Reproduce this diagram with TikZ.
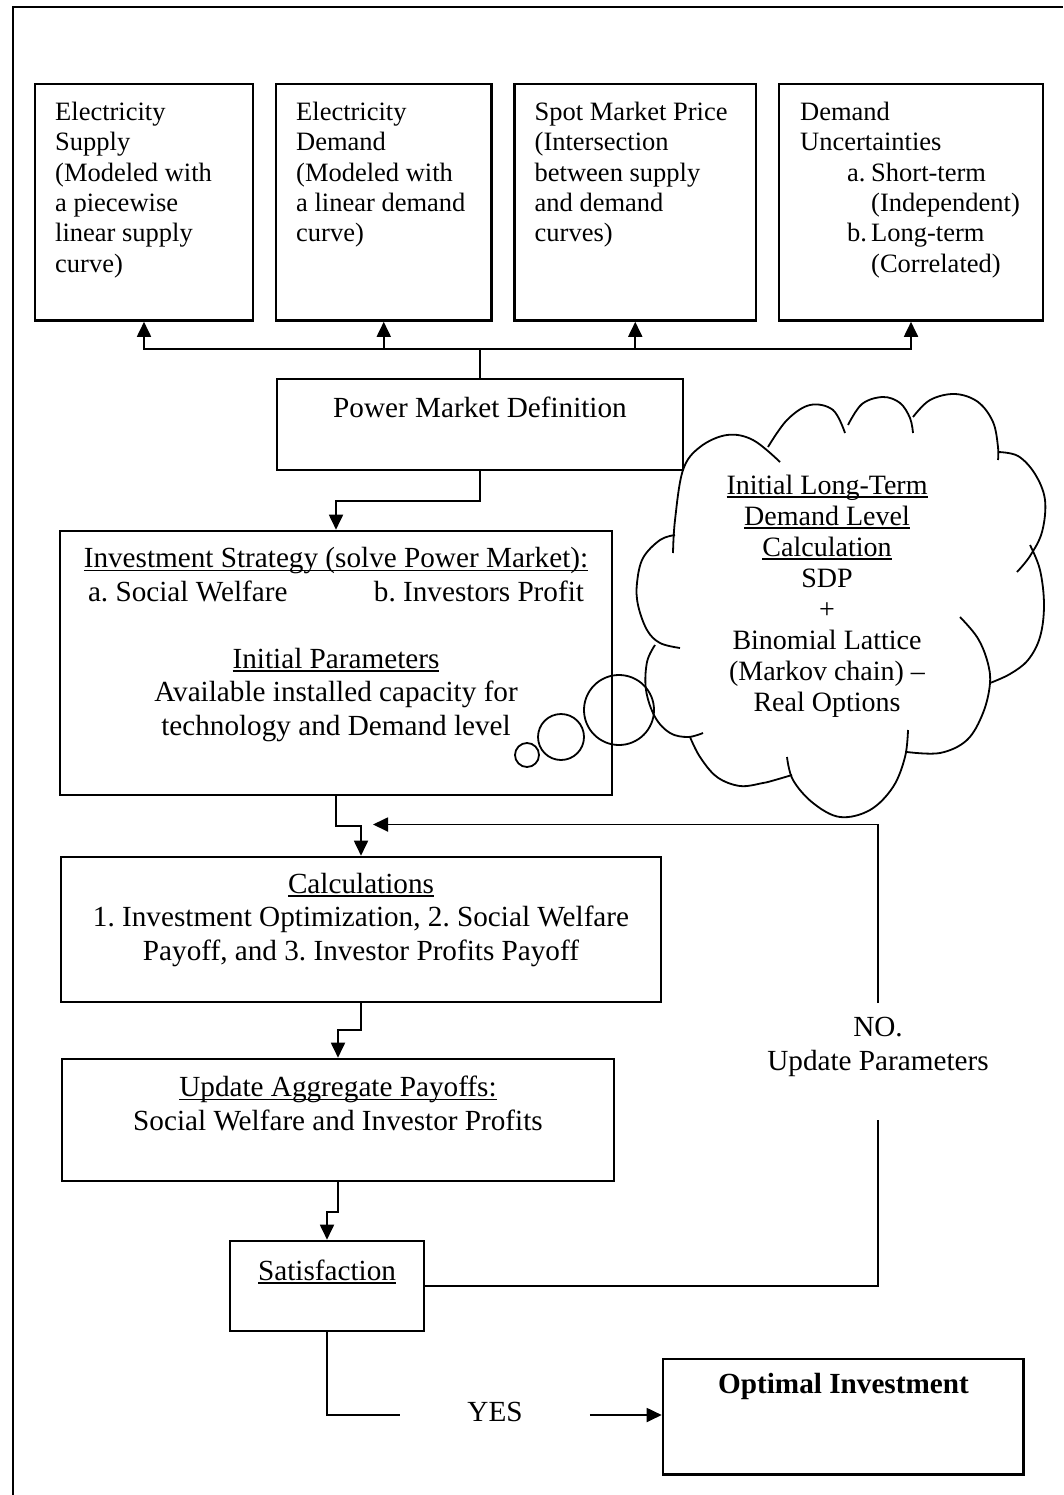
\documentclass[tikz,border=0pt]{standalone}
\usepackage{fontspec}
\setmainfont{Liberation Serif}
\usetikzlibrary{arrows.meta}

% underline at a fixed distance below the baseline
\newcommand\ulx[1]{\setbox0=\hbox{#1}\rlap{\rule[-3.5pt]{\wd0}{1.3pt}}\box0}
% fixes the height of a node's first line
\newcommand\topstrut{\rule{0pt}{22pt}}
\newcommand\fA{\fontsize{26.5pt}{30.3pt}\selectfont\frenchspacing}
\newcommand\fB{\fontsize{29.2pt}{33.5pt}\selectfont\frenchspacing}
\newcommand\fC{\fontsize{28pt}{31pt}\selectfont\frenchspacing}

\begin{document}
\begin{tikzpicture}[x=1pt,y=-1pt,
  box/.style={draw, rectangle, line width=2.6pt, inner sep=0pt},
  link/.style={line width=1.8pt},
  arr/.style={link, -{Triangle[length=15pt,width=14pt]}},
  txtA/.style={font=\fA, inner sep=0pt, align=left, anchor=north west},
  txtB/.style={font=\fB, inner sep=0pt, align=center},
  bubble/.style={draw, circle, line width=1.8pt, inner sep=0pt},
  lobe/.style={line width=1.8pt, smooth, tension=0.6},
]
\useasboundingbox (0,0) rectangle (1063,1495);

% page frame
\draw[line width=2.4pt] (13,1495) -- (13,7) -- (1063,7);

% ---------- top row of market components ----------
\node[box, minimum width=218, minimum height=236.5] (sup)  at (144,202.25) {};
\node[box, minimum width=215.5, minimum height=236.5] (dem) at (383.75,202.25) {};
\node[box, minimum width=241.5, minimum height=236.5] (spot) at (635.25,202.25) {};
\node[box, minimum width=264, minimum height=236.5] (unc) at (911,202.25) {};

\node[txtA] (supt) at (55,98.5) {\topstrut Electricity\\Supply\\(Modeled with\\a piecewise\\linear supply\\curve)};
\node[txtA] (demt) at (296,98.5) {\topstrut Electricity\\Demand\\(Modeled with\\a linear demand\\curve)};
\node[txtA] (spott) at (534.5,98.5) {\topstrut Spot Market Price\\(Intersection\\between supply\\and demand\\curves)};
\node[txtA] (unct) at (800,98.5) {\topstrut Demand\\Uncertainties\\\hspace*{47pt}\makebox[24pt][l]{a.}Short-term\\\hspace*{71pt}(Independent)\\\hspace*{47pt}\makebox[24pt][l]{b.}Long-term\\\hspace*{71pt}(Correlated)};

% ---------- main flow boxes ----------
\node[box, minimum width=406, minimum height=91] (pmd) at (480,424.5) {};
\node[font=\fB, inner sep=0pt, anchor=base] (pmdt) at (480,417.3) {Power Market Definition};

\node[box, minimum width=552, minimum height=264] (is) at (336,663) {};
\node[txtB, anchor=north] (ist) at (336,545.5) {\topstrut\ulx{Investment Strategy (solve Power Market):}\\
  \makebox[496pt]{a. Social Welfare\hfill b. Investors Profit}\\
  \mbox{}\\
  \ulx{Initial Parameters}\\
  Available installed capacity for\\
  technology and Demand level};

\node[box, minimum width=600, minimum height=145] (calc) at (361,929.5) {};
\node[txtB, anchor=north] (calct) at (361,871) {\topstrut\ulx{Calculations}\\
  1. Investment Optimization, 2. Social Welfare\\
  Payoff, and 3. Investor Profits Payoff};

\node[box, minimum width=552, minimum height=122] (uap) at (338,1120) {};
\node[txtB, anchor=north] (uapt) at (338,1074.7) {\topstrut\ulx{Update Aggregate Payoffs:}\\
  Social Welfare and Investor Profits};

\node[box, minimum width=194, minimum height=90] (sat) at (327,1286) {};
\node[font=\fB, inner sep=0pt, anchor=base] (satt) at (327,1280) {\ulx{Satisfaction}};

\node[box, minimum width=360.5, minimum height=115.5] (oi) at (843.25,1416.75) {};
\node[font=\fB, inner sep=0pt, anchor=base] (oit) at (843.5,1393) {\bfseries Optimal Investment};

% ---------- thought cloud ----------
\draw[lobe] plot coordinates {(673,553) (675,520) (683,470) (700,447) (727,435) (753,440) (780,462)};
\draw[lobe] plot coordinates {(768,447) (787,420) (810,405) (833,410) (845,433)};
\draw[lobe] plot coordinates {(848,425) (862,404) (883,397) (900,403) (910,418) (913,433)};
\draw[lobe] plot coordinates {(913,417) (930,400) (955,394) (978,402) (993,422) (998,447) (998,460)};
\draw[lobe] plot coordinates {(998,452) (1018,456) (1035,474) (1045,500) (1042,532) (1030,556) (1017,572)};
\draw[lobe] plot coordinates {(1030,545) (1040,570) (1044,605) (1040,637) (1028,660) (1010,674) (990,683)};
\draw[lobe] plot coordinates {(960,617) (977,637) (987,660) (990,683) (983,713) (967,740) (940,753) (907,752)};
\draw[lobe] plot coordinates {(908,730) (905,757) (893,787) (870,810) (840,817) (813,803) (793,780) (787,757)};
\draw[lobe] plot coordinates {(792,775) (775,780) (763,783) (740,786) (717,777) (700,757) (690,737)};
\draw[lobe] plot coordinates {(703,733) (688,737) (670,733) (655,717) (646,690) (647,662) (655,645)};
\draw[lobe] plot coordinates {(680,648) (660,643) (647,630) (638,605) (637,583) (643,558) (660,540) (675,535)};

\node[font=\fC, inner sep=0pt, align=center, anchor=north] (cloudt) at (827,472) {\topstrut\ulx{Initial Long-Term}\\
  \ulx{Demand Level}\\
  \ulx{Calculation}\\
  SDP\\
  +\\
  Binomial Lattice\\
  (Markov chain) –\\
  Real Options};

% thought bubbles leading to the cloud
\node[bubble, minimum size=24] (b1) at (527,755) {};
\node[bubble, minimum size=46] (b2) at (561,737) {};
\node[bubble, minimum size=70] (b3) at (619,710) {};

% ---------- connectors ----------
\coordinate (hub) at (480,349);
\draw[link] (pmd.north) -- (hub);
\draw[arr] (hub) -| (sup.south);
\draw[arr] (hub) -| (dem.south);
\draw[arr] (hub) -| (spot.south);
\draw[arr] (hub) -| (unc.south);

\draw[arr] (pmd.south) -- ++(0,30) -| (is.north);
\draw[arr] (is.south) -- ++(0,29.5) -| (calc.north);
\draw[arr] (calc.south) -- ++(0,27) -| (uap.north);
\draw[arr] (uap.south) -- ++(0,30) -| (sat.north);

% feedback loop with its label
\coordinate (nolow) at (878,1120);
\coordinate (nohigh) at (878,1003);
\coordinate (loopin) at (373,824.5);
\node[txtB, anchor=north] (not) at (878,1014.7) {\topstrut NO.\\Update Parameters};
\draw[link] (sat.east) -| (nolow);
\draw[arr] (nohigh) |- (loopin);

% exit branch
\node[font=\fB, inner xsep=67pt, inner ysep=0pt, text height=19.3pt, text depth=5.9pt] (yes) at (495,1415) {YES};
\draw[link] (sat.south) |- (yes.west);
\draw[arr] (yes.east) -- (yes.east -| oi.west);

\end{tikzpicture}
\end{document}
